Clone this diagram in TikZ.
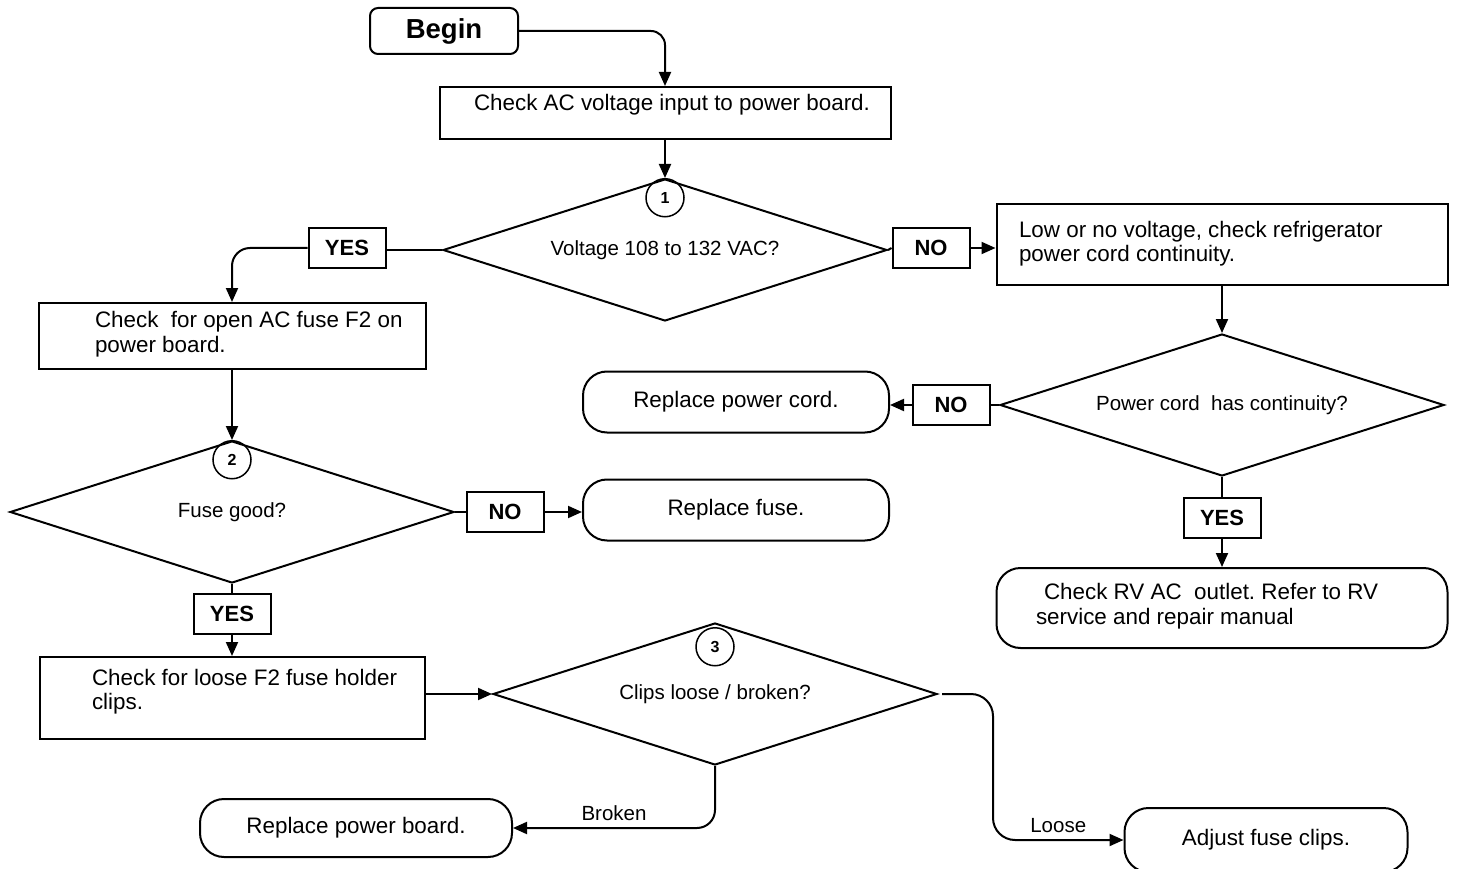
\documentclass[tikz,border=0pt]{standalone}
\usepackage{fontspec}
\setmainfont{Liberation Sans}
\frenchspacing
\usetikzlibrary{positioning,arrows.meta,shapes.geometric}

\begin{document}
\begin{tikzpicture}[x=1pt,y=-1pt,line width=2pt,
  box/.style={draw,inner sep=0pt},
  term/.style={draw,rounded corners=24pt,inner sep=0pt,font=\fontsize{22.4}{25}\selectfont},
  dec/.style={draw,diamond,shape aspect=3.127,inner sep=0pt,minimum width=444pt,minimum height=142pt,font=\fontsize{20.5}{24}\selectfont},
  tag/.style={draw,inner sep=0pt,minimum width=77pt,minimum height=40pt,font=\bfseries\fontsize{22}{26}\selectfont},
  num/.style={draw,circle,line width=1.5pt,inner sep=0pt,minimum size=38pt,anchor=north,font=\bfseries\fontsize{16}{18}\selectfont},
  txt/.style={anchor=west,align=left,inner sep=0pt,font=\fontsize{22.4}{24.5}\selectfont},
  lbl/.style={font=\fontsize{20.5}{24}\selectfont,above=3pt},
  >={Triangle[length=14pt,width=12pt]}]
\useasboundingbox (0,0) rectangle (1457,869);
% top
\node[box,rounded corners=8pt,minimum width=148pt,minimum height=46pt,font=\bfseries\fontsize{27.5}{30}\selectfont] (begin) at (444,31) {Begin};
\node[box,minimum width=451pt,minimum height=52pt] (ac) at (665,113) {};
\node[txt] (acT) at (473,105) {Check AC voltage input to power board.};
\node[dec] (d1) at (665,250) {\raisebox{-4pt}{Voltage 108 to 132 VAC?}};
\node[num] (c1) at (d1.north) {1};
\node[tag] (y1) at (347,248) {YES};
\node[tag] (n1) at (931,248) {NO};
% right branch
\node[box,minimum width=451pt,minimum height=81pt] (low) at (1222,244.5) {};
\node[txt] (lowT) at (1018,243.5) {Low or no voltage, check refrigerator\\power cord continuity.};
\node[dec] (d4) at (1222,405) {\raisebox{-3pt}{Power cord\ \ has continuity?}};
\node[tag] (n3) at (951,405) {NO};
\node[term,minimum width=306pt,minimum height=61pt] (cord) at (736,402) {Replace power cord.};
\node[tag] (y3) at (1222,518) {YES};
\node[term,minimum width=451pt,minimum height=80pt] (rv) at (1222,608) {};
\node[txt] (rvT) at (1035,606) {\hspace{8pt}Check RV AC\ \ outlet. Refer to RV\\service and repair manual};
% left branch
\node[box,minimum width=387pt,minimum height=66pt] (fuse) at (232,336) {};
\node[txt] (fuseT) at (94,334) {Check\ \ for open AC fuse F2 on\\power board.};
\node[dec] (d2) at (232,512) {Fuse good?};
\node[num] (c2) at (d2.north) {2};
\node[tag] (n2) at (505,512) {NO};
\node[term,minimum width=306pt,minimum height=61pt] (rfuse) at (736,510) {Replace fuse.};
\node[tag] (y2) at (232,614) {YES};
\node[box,minimum width=385pt,minimum height=82pt] (loose) at (232,698) {};
\node[txt] (looseT) at (91,691.5) {Check for loose F2 fuse holder\\clips.};
\node[dec] (d3) at (715,694) {\raisebox{-4pt}{Clips loose / broken?}};
\node[num,yshift=-5pt] (c3) at (d3.north) {3};
\node[term,minimum width=312pt,minimum height=58pt] (board) at (356,828) {Replace power board.};
\node[term,minimum width=283pt,minimum height=64pt] (adj) at (1266,840) {Adjust fuse clips.};
% connectors
\draw[->,rounded corners=14pt] (begin.east) -| (ac.north);
\draw[->] (ac.south) -- (d1.north);
\draw (d1.west) -- (d1.west -| y1.east);
\draw[->,rounded corners=18pt] (y1.west) -| (fuse.north);
\draw (d1.east) -- (n1.west);
\draw[->] (n1.east) -- (n1.east -| low.west);
\draw[->] (low.south) -- (d4.north);
\draw (d4.west) -- (n3.east);
\draw[->] (n3.west) -- (n3.west -| cord.east);
\draw (d4.south) -- (y3.north);
\draw[->] (y3.south) -- (rv.north);
\draw[->] (fuse.south) -- (d2.north);
\draw (d2.east) -- (n2.west);
\draw[->] (n2.east) -- (n2.east -| rfuse.west);
\draw (d2.south) -- (y2.north);
\draw[->] (y2.south) -- (loose.north);
\draw[->] (loose.east |- d3.west) -- (d3.west);
\draw[->,rounded corners=18pt] (d3.south) |- node[lbl,pos=0.75] {Broken} (board.east);
\draw[->,rounded corners=22pt,shorten <=4pt] (d3.east) -- ++(55,0) |- node[lbl,pos=0.75] {Loose} (adj.west);
\end{tikzpicture}
\end{document}
